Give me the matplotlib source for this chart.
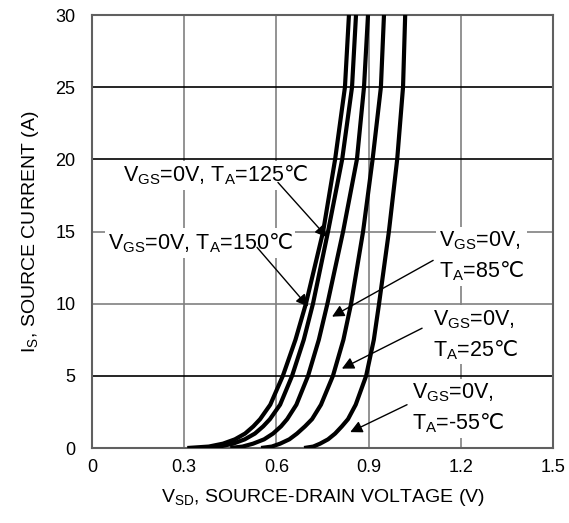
import numpy as np
from matplotlib import pyplot as plt

plt.rcParams['font.family'] = ['Liberation Sans', 'DejaVu Sans']
plt.rcParams['mathtext.fontset'] = 'custom'
plt.rcParams['mathtext.rm'] = 'Liberation Sans'
plt.rcParams['mathtext.it'] = 'Liberation Sans:italic'
plt.rcParams['mathtext.bf'] = 'Liberation Sans:bold'
plt.rcParams['mathtext.sf'] = 'DejaVu Sans'  # only used for the degree-celsius sign
plt.rcParams['mathtext.default'] = 'regular'

# source current (A)
i_s = [0, 0.1, 0.3, 0.6, 1, 1.5, 2, 3, 5, 7.5, 10, 15, 20, 25, 30]
# source-drain voltage (V) for each junction temperature
v_150 = [0.31, 0.38, 0.426, 0.465, 0.498, 0.525, 0.547, 0.58, 0.621, 0.662, 0.696, 0.752, 0.791, 0.823, 0.836]
v_125 = [0.36, 0.415, 0.459, 0.497, 0.530, 0.557, 0.579, 0.612, 0.651, 0.689, 0.719, 0.768, 0.814, 0.846, 0.859]
v_85 = [0.45, 0.49, 0.524, 0.560, 0.589, 0.615, 0.635, 0.665, 0.703, 0.738, 0.766, 0.817, 0.862, 0.885, 0.898]
v_25 = [0.55, 0.585, 0.612, 0.642, 0.667, 0.693, 0.716, 0.745, 0.784, 0.818, 0.843, 0.882, 0.913, 0.940, 0.950]
v_m55 = [0.69, 0.72, 0.742, 0.768, 0.791, 0.813, 0.833, 0.858, 0.892, 0.917, 0.934, 0.966, 0.993, 1.012, 1.019]

x_ticks = [0, 0.3, 0.6, 0.9, 1.2, 1.5]
x_labels = ['0', '0.3', '0.6', '0.9', '1.2', '1.5']
y_ticks = [0, 5, 10, 15, 20, 25, 30]

degc = r'$\mathsf{℃}$'

fig = plt.figure(figsize=(5.69, 5.23), dpi=100)
ax = fig.add_axes([0.1617, 0.1434, 0.8102, 0.8279])

# grid: vertical gray, horizontal mixed
for xv in x_ticks[1:-1]:
    ax.axvline(xv, color='#808080', lw=1.2, zorder=1)
h_colors = {5: 'black', 10: '#808080', 15: '#808080', 20: 'black', 25: 'black'}
for yv in y_ticks[1:-1]:
    ax.axhline(yv, color=h_colors[yv], lw=1.2, zorder=1)

for v in [v_150, v_125, v_85, v_25, v_m55]:
    ax.plot(v, i_s, color='black', lw=3, zorder=3, solid_capstyle='butt')

ax.set_xlim(0, 1.5)
ax.set_ylim(0, 30)
ax.set_xticks(x_ticks)
ax.set_xticklabels(x_labels)
ax.set_yticks(y_ticks)
ax.tick_params(length=0, labelsize=13)
ax.tick_params(axis='x', pad=8)
ax.tick_params(axis='y', pad=12)
for s in ax.spines.values():
    s.set_color('#606060')
    s.set_linewidth(1.5)

ax.set_xlabel(r'V$_{SD}$, SOURCE-DRAIN VOLTAGE (V)', fontsize=14, labelpad=8)
ax.set_ylabel(r'I$_{S}$, SOURCE CURRENT (A)', fontsize=14, labelpad=10)

box = dict(facecolor='white', edgecolor='none', pad=2)
fs = 15.5
ax.text(0.40, 18.9, r'V$_{GS}$=0V, T$_{A}$=125' + degc, fontsize=fs, ha='center', va='center', bbox=box, zorder=2)
ax.text(0.351, 14.2, r'V$_{GS}$=0V, T$_{A}$=150' + degc, fontsize=fs, ha='center', va='center', bbox=box, zorder=2)
ax.text(1.13, 13.3, 'V$_{GS}$=0V,\nT$_{A}$=85' + degc, fontsize=fs, ha='left', va='center', bbox=box, zorder=2, linespacing=1.4)
ax.text(1.11, 7.83, 'V$_{GS}$=0V,\nT$_{A}$=25' + degc, fontsize=fs, ha='left', va='center', bbox=box, zorder=2, linespacing=1.4)
ax.text(1.04, 2.77, 'V$_{GS}$=0V,\nT$_{A}$=-55' + degc, fontsize=fs, ha='left', va='center', bbox=box, zorder=2, linespacing=1.4)

arrows = [((0.605, 18.4), (0.765, 14.6)),
          ((0.537, 13.9), (0.703, 9.8)),
          ((1.11, 13.0), (0.781, 9.1)),
          ((1.074, 8.3), (0.813, 5.5)),
          ((1.025, 3.0), (0.84, 1.1))]
for start, end in arrows:
    ax.annotate('', xy=end, xytext=start,
                arrowprops=dict(arrowstyle='-|>', color='black', lw=1,
                                mutation_scale=18, shrinkA=0, shrinkB=0),
                zorder=4)

fig.savefig('out.png', dpi=100)
